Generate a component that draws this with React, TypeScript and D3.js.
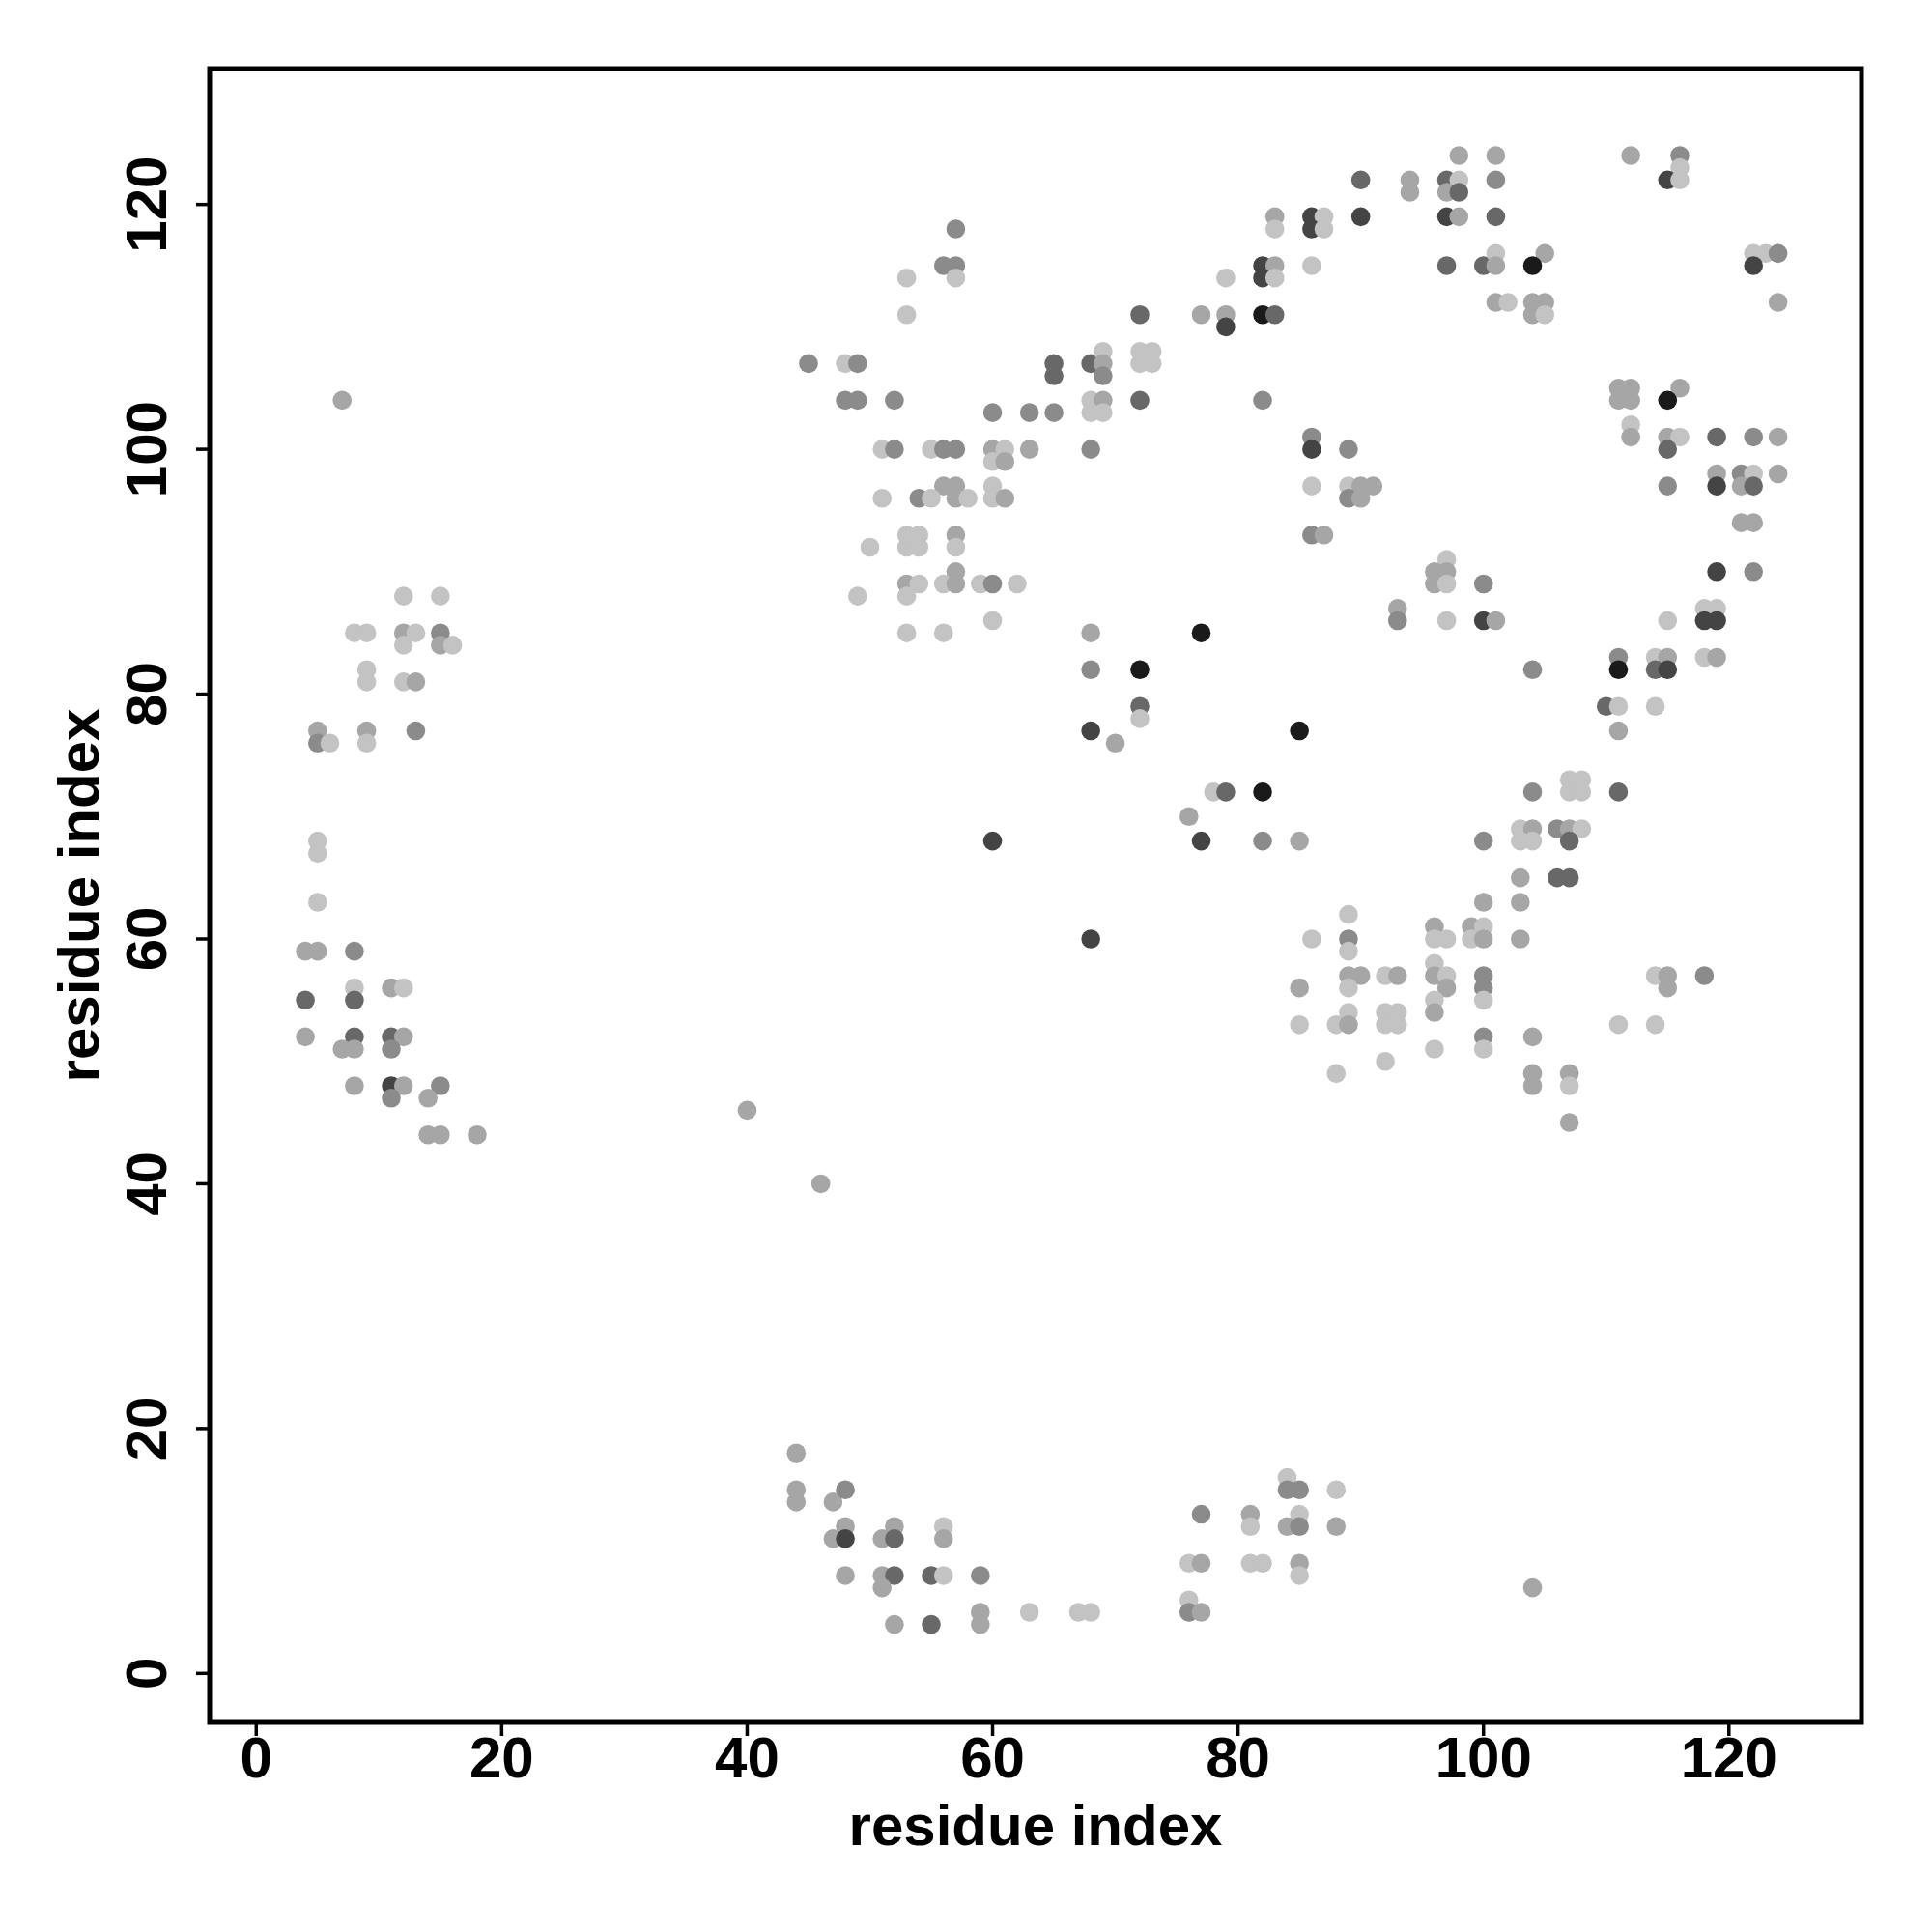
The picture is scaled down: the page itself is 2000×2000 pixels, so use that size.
import React from "react";
import * as d3 from "d3";

// contacts: [residue i, residue j, contact strength level 1..6]
const leftCluster: [number, number, number][] = [
  [7,104,2],
  [12,88,1],[15,88,1],
  [8,85,1],[9,85,1],[12,85,2],[13,85,1],[15,85,3],
  [12,84,1],[15,84,2],[16,84,1],
  [9,82,1],
  [9,81,1],[12,81,1],[13,81,2],
  [5,77,2],[9,77,2],[13,77,3],
  [5,76,3],[6,76,1],[9,76,1],
  [5,68,1],[5,67,1],[5,63,1],
  [4,59,2],[5,59,2],[8,59,3],
  [8,56,1],[11,56,2],[12,56,1],
  [4,55,4],[8,55,4],
  [4,52,2],[8,52,4],[11,52,4],[12,52,2],
  [7,51,2],[8,51,2],[11,51,3],
  [8,48,2],[11,48,5],[12,48,2],[15,48,3],
  [11,47,3],[14,47,2],
  [14,44,2],[15,44,2],[18,44,2],
  [40,46,2],[46,40,2],
];

const bottomCluster: [number, number, number][] = [
  [44,18,2],[44,15,2],[44,14,2],[47,14,2],[48,15,3],
  [48,12,2],[52,12,2],[56,12,1],
  [47,11,2],[48,11,5],[51,11,2],[52,11,4],[56,11,2],
  [48,8,2],[51,8,2],[52,8,4],[55,8,4],[56,8,1],[59,8,3],
  [51,7,2],
  [59,5,2],[63,5,1],[67,5,1],[68,5,1],
  [52,4,2],[55,4,4],[59,4,2],
  [76,6,1],[76,5,3],[77,5,2],
  [76,9,1],[77,9,2],[81,9,1],[82,9,1],[85,9,2],[85,8,1],
  [77,13,3],[81,13,2],[85,13,1],
  [81,12,1],[84,12,2],[85,12,3],[88,12,2],
  [84,16,1],[84,15,3],[85,15,3],[88,15,1],
  [104,7,2],
];

const upperMiddle: [number, number, number][] = [
  [57,118,3],
  [56,115,3],[57,115,3],
  [53,114,1],[57,114,1],
  [53,111,1],
  [45,107,3],[48,107,1],[49,107,3],
  [48,104,3],[49,104,3],[52,104,3],
  [60,103,3],[63,103,3],[65,103,3],
  [51,100,1],[52,100,3],[55,100,1],[56,100,3],[57,100,3],[60,100,2],[61,100,1],[63,100,2],
  [60,99,1],[61,99,2],
  [56,97,2],[57,97,2],[60,97,1],
  [51,96,1],[54,96,3],[55,96,1],[57,96,2],[58,96,1],[60,96,1],[61,96,2],
  [53,93,1],[54,93,1],[57,93,2],
  [50,92,1],[53,92,1],[54,92,1],[57,92,1],
  [57,90,2],
  [53,89,2],[54,89,1],[56,89,1],[57,89,2],[59,89,1],[60,89,3],[62,89,1],
  [49,88,1],[53,88,1],
  [60,86,1],
  [53,85,1],[56,85,1],
  [79,114,1],
  [72,111,4],[77,111,2],[79,111,2],[79,110,5],
  [65,107,4],[68,107,4],[69,108,1],[69,107,2],[72,108,1],[73,108,1],[72,107,1],[73,107,1],
  [65,106,4],[69,106,3],
  [68,104,1],[69,104,2],[72,104,4],
  [68,103,1],[69,103,1],
  [68,100,3],
  [68,85,2],[77,85,6],
  [68,82,3],[72,82,6],
  [72,79,4],[72,78,1],
  [68,77,5],[70,76,2],
  [60,68,5],[68,60,5],
];

const upperRight: [number, number, number][] = [
  [98,124,2],[101,124,2],
  [90,122,4],[94,122,2],[97,122,4],[98,122,1],[101,122,3],
  [94,121,2],[97,121,2],[98,121,4],
  [83,119,2],[86,119,5],[87,119,1],[90,119,5],[97,119,5],[98,119,2],[101,119,4],
  [83,118,1],[86,118,5],[87,118,1],
  [82,115,5],[83,115,2],[86,115,1],[97,115,4],[100,115,4],[101,116,1],[101,115,2],
  [82,114,5],[83,114,1],
  [101,112,2],
  [82,111,6],[83,111,4],
  [82,104,3],
  [112,124,2],[116,124,3],[116,123,1],
  [115,122,5],[116,122,1],
  [105,116,2],[122,116,1],[123,116,1],[124,116,3],
  [104,115,6],[122,115,5],
  [102,112,1],[104,112,2],[105,112,2],[124,112,2],
  [104,111,2],[105,111,1],
  [111,105,2],[112,105,2],[116,105,2],
  [111,104,2],[112,104,2],[115,104,6],
];

const middleRight: [number, number, number][] = [
  [86,101,3],[86,100,5],[89,100,3],
  [86,97,1],[89,97,1],[90,97,2],[91,97,2],
  [89,96,3],[90,96,2],
  [86,93,3],[87,93,2],
  [97,91,1],[96,90,2],[97,90,2],[96,89,2],[97,89,1],[100,89,3],
  [93,87,2],[93,86,3],[97,86,1],[100,86,5],[101,86,2],
  [85,77,6],
  [78,72,1],[79,72,4],[82,72,6],
  [76,70,2],
  [77,68,5],[82,68,3],[85,68,2],[100,68,3],
  [112,102,1],
  [112,101,2],[115,101,2],[116,101,1],[119,101,4],[122,101,3],[124,101,2],
  [115,100,4],
  [119,98,2],[121,98,3],[122,98,1],[124,98,2],
  [115,97,3],[119,97,5],[121,97,2],[122,97,4],
  [121,94,2],[122,94,2],
  [119,90,5],[122,90,3],
  [118,87,1],[119,87,1],
  [115,86,1],[118,86,5],[119,86,5],
  [111,83,3],[114,83,1],[115,83,2],[118,83,1],[119,83,2],
  [104,82,3],[111,82,6],[114,82,4],[115,82,5],
  [110,79,4],[111,79,1],[114,79,1],
  [111,77,2],
];

const lowerRight: [number, number, number][] = [
  [104,72,3],[111,72,4],[107,73,1],[108,73,1],[107,72,1],[108,72,1],
  [103,69,1],[104,69,2],[106,69,3],[107,69,2],[108,69,1],
  [103,68,1],[104,68,1],[107,68,4],
  [103,65,2],[106,65,4],[107,65,4],
  [100,63,2],[103,63,2],
  [99,61,2],[100,61,1],[99,60,1],[100,60,2],[103,60,2],
  [100,57,3],[114,57,1],[115,57,2],[118,57,3],
  [100,56,3],[115,56,2],
  [100,55,1],
  [111,53,1],[114,53,1],
  [100,52,3],[104,52,2],
  [100,51,1],
  [104,49,2],[107,49,2],
  [104,48,2],[107,48,1],
  [107,45,2],
  [89,62,1],
  [96,61,2],
  [86,60,1],[89,60,3],[96,60,1],[97,60,1],
  [89,59,1],
  [96,58,1],
  [89,57,2],[90,57,2],[92,57,1],[93,57,2],[96,57,2],[97,57,1],
  [85,56,2],[89,56,1],[97,56,2],
  [96,55,1],
  [89,54,1],[92,54,1],[93,54,1],[96,54,2],
  [85,53,1],[88,53,1],[89,53,2],[92,53,1],[93,53,1],
  [96,51,1],
  [92,50,1],
  [88,49,1],
];

const xTicks = [0, 20, 40, 60, 80, 100, 120];
const yTicks = [0, 20, 40, 60, 80, 100, 120];
const xLabel = "residue index";
const yLabel = "residue index";

export default function App() {
  const W = 2000, H = 2000;
  const left = 217, right = 1927, top = 71, bottom = 1783;
  const x = d3.scaleLinear().domain([-3.8, 130.8]).range([left, right]);
  const y = d3.scaleLinear().domain([-4.0, 131.1]).range([bottom, top]);
  const shade = d3
    .scaleLinear<string>()
    .domain([1, 2, 3, 4, 5, 6])
    .range(["#c3c3c3", "#a6a6a6", "#8b8b8b", "#686868", "#444444", "#1a1a1a"]);
  const all = [...leftCluster, ...bottomCluster, ...upperMiddle, ...upperRight, ...middleRight, ...lowerRight];
  const font = "'Liberation Sans', Arial, Helvetica, sans-serif";
  const fs = 60;
  return (
    <svg width={W} height={H} style={{ position: "absolute", left: 0, top: 0, background: "#fff" }}>
      <rect x={0} y={0} width={W} height={H} fill="#fff" />
      {all.map((d, i) => (
        <circle key={i} cx={x(d[0])} cy={y(d[1])} r={9.8} fill={shade(d[2])} />
      ))}
      <rect x={left} y={top} width={right - left} height={bottom - top} fill="none" stroke="#000" strokeWidth={5} />
      {xTicks.map((t) => (
        <g key={"x" + t}>
          <line x1={x(t)} x2={x(t)} y1={bottom} y2={bottom + 14} stroke="#000" strokeWidth={3.5} />
          <text x={x(t)} y={1840} textAnchor="middle" fontFamily={font} fontWeight="bold" fontSize={fs}>
            {t}
          </text>
        </g>
      ))}
      {yTicks.map((t) => (
        <g key={"y" + t}>
          <line x1={left} x2={left - 14} y1={y(t)} y2={y(t)} stroke="#000" strokeWidth={3.5} />
          <text
            transform={`translate(172,${y(t)}) rotate(-90)`}
            textAnchor="middle"
            fontFamily={font}
            fontWeight="bold"
            fontSize={fs}
          >
            {t}
          </text>
        </g>
      ))}
      <text x={(left + right) / 2} y={1910} textAnchor="middle" fontFamily={font} fontWeight="bold" fontSize={fs}>
        {xLabel}
      </text>
      <text
        transform={`translate(102,${(top + bottom) / 2}) rotate(-90)`}
        textAnchor="middle"
        fontFamily={font}
        fontWeight="bold"
        fontSize={fs}
      >
        {yLabel}
      </text>
    </svg>
  );
}
